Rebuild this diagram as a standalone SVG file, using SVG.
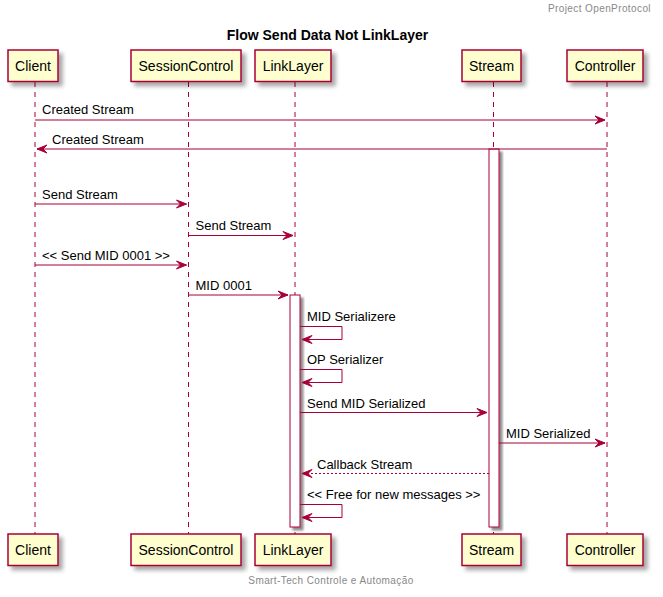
<svg xmlns="http://www.w3.org/2000/svg" width="663" height="597" viewBox="0 0 663 597">
<defs>
<filter id="sh" x="-20%" y="-20%" width="150%" height="150%">
<feDropShadow dx="4" dy="4" stdDeviation="2" flood-color="#000000" flood-opacity="0.35"/>
</filter>
<filter id="sha" x="-50%" y="-5%" width="200%" height="110%">
<feDropShadow dx="3" dy="3" stdDeviation="1" flood-color="#000000" flood-opacity="0.45"/>
</filter>
<style>
.box{fill:#FEFECE;stroke:#A80036;stroke-width:1.5;filter:url(#sh)}
.act{fill:#FFFFFF;stroke:#A80036;stroke-width:1;filter:url(#sha)}
.life{stroke:#A80036;stroke-width:1;stroke-dasharray:5,5;fill:none}
.msg{stroke:#A80036;stroke-width:1;fill:none}
.dash{stroke:#A80036;stroke-width:1;fill:none;stroke-dasharray:2,2}
.head{fill:#A80036;stroke:#A80036;stroke-width:1}
.pt{font-family:"Liberation Sans",Arial,sans-serif;font-size:14px;fill:#000000;text-anchor:middle}
.mt{font-family:"Liberation Sans",Arial,sans-serif;font-size:13px;fill:#000000}
.gray{font-family:"Liberation Sans",Arial,sans-serif;font-size:10px;fill:#888888;letter-spacing:0.4px}
.title{font-family:"Liberation Sans",Arial,sans-serif;font-size:14px;font-weight:bold;fill:#000000;text-anchor:middle}
</style>
</defs>
<rect width="663" height="597" fill="#FFFFFF"/>
<text class="gray" x="651" y="12" text-anchor="end">Project OpenProtocol</text>
<text class="title" x="327.5" y="40">Flow Send Data Not LinkLayer</text>

<g id="lifelines">
<line class="life" x1="35" y1="82" x2="35" y2="534"/>
<line class="life" x1="188.5" y1="82" x2="188.5" y2="534"/>
<line class="life" x1="295" y1="82" x2="295" y2="534"/>
<line class="life" x1="493.5" y1="82" x2="493.5" y2="534"/>
<line class="life" x1="607" y1="82" x2="607" y2="534"/>
</g>

<g id="activations">
<rect class="act" x="489" y="149" width="10" height="378"/>
<rect class="act" x="290" y="295" width="10" height="232"/>
</g>

<g id="Client">
<rect class="box" x="8" y="50" width="50" height="31.5"/>
<text class="pt" x="33" y="71">Client</text>
<rect class="box" x="8" y="534" width="50" height="31.5"/>
<text class="pt" x="33" y="555">Client</text>
</g>
<g id="SessionControl">
<rect class="box" x="131" y="50" width="110" height="31.5"/>
<text class="pt" x="186" y="71">SessionControl</text>
<rect class="box" x="131" y="534" width="110" height="31.5"/>
<text class="pt" x="186" y="555">SessionControl</text>
</g>
<g id="LinkLayer">
<rect class="box" x="255" y="50" width="76" height="31.5"/>
<text class="pt" x="293" y="71">LinkLayer</text>
<rect class="box" x="255" y="534" width="76" height="31.5"/>
<text class="pt" x="293" y="555">LinkLayer</text>
</g>
<g id="Stream">
<rect class="box" x="462" y="50" width="59" height="31.5"/>
<text class="pt" x="491.5" y="71">Stream</text>
<rect class="box" x="462" y="534" width="59" height="31.5"/>
<text class="pt" x="491.5" y="555">Stream</text>
</g>
<g id="Controller">
<rect class="box" x="567" y="50" width="76" height="31.5"/>
<text class="pt" x="605" y="71">Controller</text>
<rect class="box" x="567" y="534" width="76" height="31.5"/>
<text class="pt" x="605" y="555">Controller</text>
</g>

<g id="connectors">
<line class="msg" x1="35" y1="120" x2="605" y2="120"/>
<polygon class="head" points="595,116 605,120 595,124 599,120"/>
<text class="mt" x="42" y="114">Created Stream</text>

<line class="msg" x1="607" y1="149" x2="37" y2="149"/>
<polygon class="head" points="47,145 37,149 47,153 43,149"/>
<text class="mt" x="52" y="144">Created Stream</text>

<line class="msg" x1="35" y1="204" x2="186.5" y2="204"/>
<polygon class="head" points="176.5,200 186.5,204 176.5,208 180.5,204"/>
<text class="mt" x="42" y="199">Send Stream</text>

<line class="msg" x1="188.5" y1="235.5" x2="293" y2="235.5"/>
<polygon class="head" points="283,231.5 293,235.5 283,239.5 287,235.5"/>
<text class="mt" x="195.5" y="230">Send Stream</text>

<line class="msg" x1="35" y1="265" x2="186.5" y2="265"/>
<polygon class="head" points="176.5,261 186.5,265 176.5,269 180.5,265"/>
<text class="mt" x="42" y="260">&lt;&lt; Send MID 0001 &gt;&gt;</text>

<line class="msg" x1="188.5" y1="295" x2="288" y2="295"/>
<polygon class="head" points="278,291 288,295 278,299 282,295"/>
<text class="mt" x="195.5" y="290">MID 0001</text>

<polyline class="msg" points="300,326.5 342,326.5 342,339.5 302,339.5"/>
<polygon class="head" points="312,335.5 302,339.5 312,343.5 308,339.5"/>
<text class="mt" x="307" y="321">MID Serializere</text>

<polyline class="msg" points="300,369.5 342,369.5 342,382.5 302,382.5"/>
<polygon class="head" points="312,378.5 302,382.5 312,386.5 308,382.5"/>
<text class="mt" x="307" y="364">OP Serializer</text>

<line class="msg" x1="300" y1="412.5" x2="487" y2="412.5"/>
<polygon class="head" points="477,408.5 487,412.5 477,416.5 481,412.5"/>
<text class="mt" x="307" y="408">Send MID Serialized</text>

<line class="msg" x1="499" y1="443" x2="605" y2="443"/>
<polygon class="head" points="595,439 605,443 595,447 599,443"/>
<text class="mt" x="506" y="438">MID Serialized</text>

<line class="dash" x1="489" y1="473.5" x2="302" y2="473.5"/>
<polygon class="head" points="312,469.5 302,473.5 312,477.5 308,473.5"/>
<text class="mt" x="317" y="469">Callback Stream</text>

<polyline class="msg" points="300,504.5 342,504.5 342,517.5 302,517.5"/>
<polygon class="head" points="312,513.5 302,517.5 312,521.5 308,517.5"/>
<text class="mt" x="307" y="499">&lt;&lt; Free for new messages &gt;&gt;</text>
</g>

<text class="gray" x="331" y="584" text-anchor="middle">Smart-Tech Controle e Automação</text>
</svg>
